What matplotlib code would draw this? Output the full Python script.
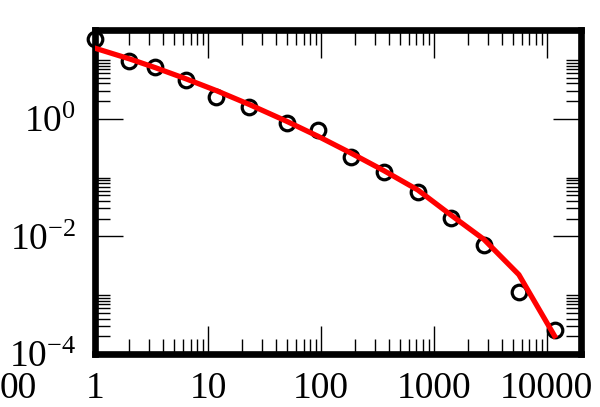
import matplotlib
matplotlib.use('Agg')
import matplotlib.pyplot as plt
from matplotlib.ticker import FixedLocator, NullFormatter

plt.rcParams['font.family'] = ['Liberation Serif', 'DejaVu Serif']
plt.rcParams['mathtext.fontset'] = 'custom'
plt.rcParams['mathtext.rm'] = 'Liberation Serif'
plt.rcParams['mathtext.it'] = 'Liberation Serif'
plt.rcParams['xtick.labelsize'] = 27
plt.rcParams['ytick.labelsize'] = 27

# data points (circles)
x = [1, 2, 3.4, 6.4, 11.8, 23, 50, 94, 184, 360, 720, 1420, 2770, 5650, 11700]
y = [22.4, 9.6, 7.7, 4.5, 2.33, 1.6, 0.855, 0.65, 0.224, 0.122, 0.0565,
     0.0204, 0.0071, 0.00115, 2.6e-4]
# fitted curve (red)
fit = [15.7, 10.4, 7.36, 4.73, 3.0, 1.75, 0.896, 0.502, 0.26, 0.131, 0.0614,
       0.0229, 0.0089, 0.00224, 2.04e-4]

xticks = [1, 10, 100, 1000, 10000]
xticklabels = ['1', '10', '100', '1000', '10000']
yticks = [1e-4, 1e-2, 1e0]
yticklabels = ['$10^{-4}$', '$10^{-2}$', '$10^{0}$']

fig = plt.figure(figsize=(6, 4.07), dpi=100)
ax = fig.add_axes([0.159, 0.130, 0.809, 0.796])

ax.plot(x, y, 'o', ms=10.5, mfc='none', mec='black', mew=2.3, zorder=3, clip_on=False)
ax.plot(x, fit, '-', color='#ff0000', lw=3.8, zorder=4)

ax.set_xscale('log')
ax.set_yscale('log')
ax.set_xlim(1, 2e4)
ax.set_ylim(1e-4, 32)

ax.set_xticks(xticks)
ax.set_xticklabels(xticklabels, fontsize=27)
ax.xaxis.set_minor_locator(FixedLocator([k * 10**e for e in range(0, 5) for k in range(2, 10)]))
ax.xaxis.set_minor_formatter(NullFormatter())

ax.set_yticks(yticks)
ax.set_yticklabels(yticklabels, fontsize=27)
ax.yaxis.set_minor_locator(FixedLocator([k * 10.0**e for e in (-4, -2, 0) for k in range(2, 11)]))
ax.yaxis.set_minor_formatter(NullFormatter())

for s in ax.spines.values():
    s.set_linewidth(4.8)

ax.tick_params(which='both', direction='in', top=True, right=True, width=1.0, colors='black')
ax.tick_params(which='major', length=20.5)
ax.tick_params(which='minor', length=10.5)
ax.tick_params(axis='x', which='major', pad=12.5)
ax.tick_params(axis='y', which='major', pad=14)

# tail of the neighbouring panel's tick label at the left edge
fig.text(37 / 600, 1 - 389 / 407, '00', fontsize=27, ha='right', va='center')

fig.savefig('out.png', dpi=100)
